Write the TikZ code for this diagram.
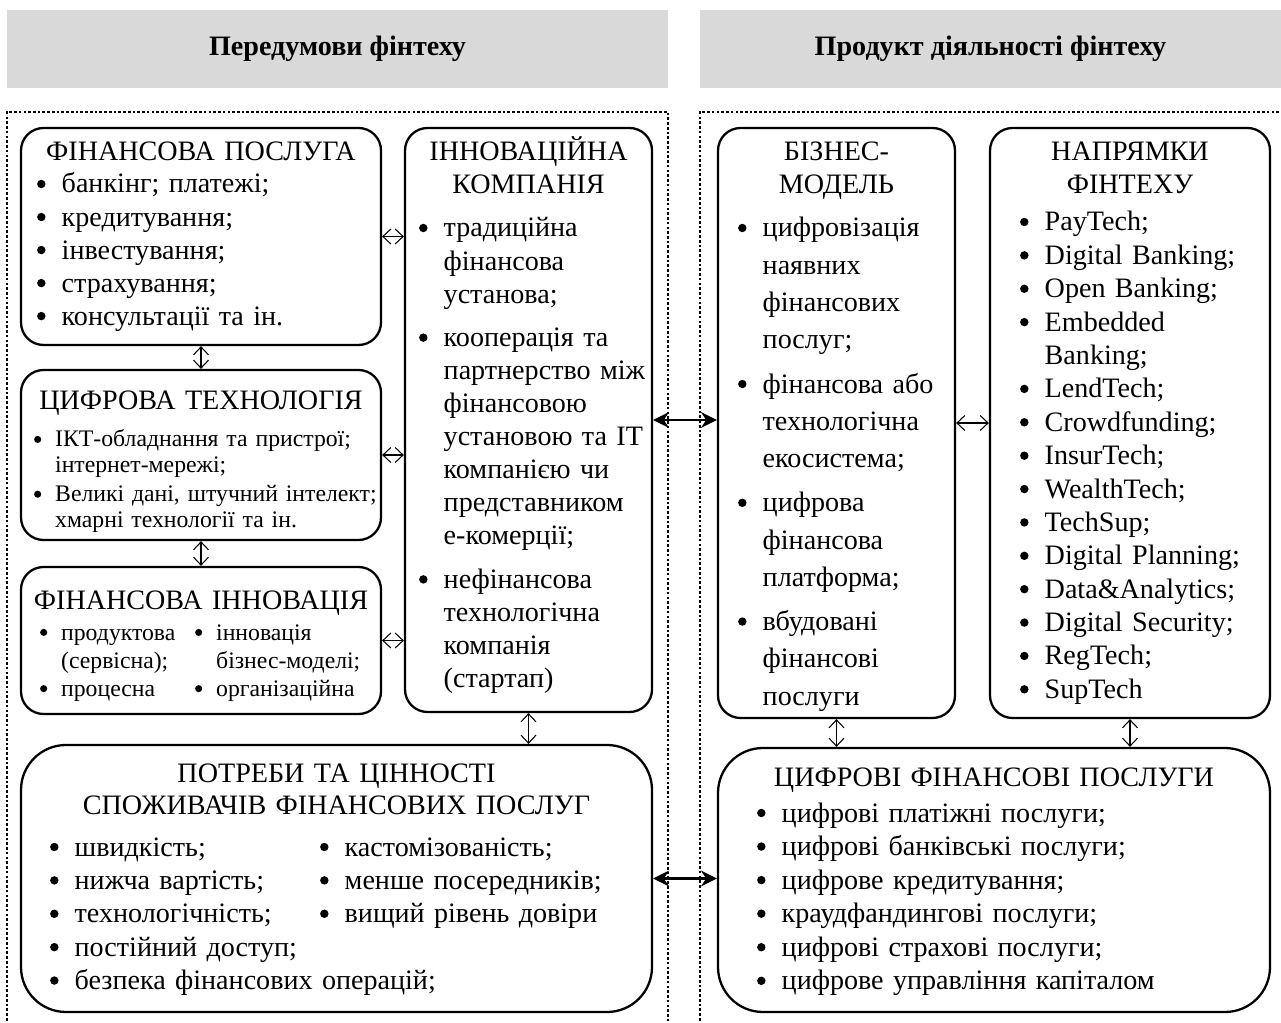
\documentclass[tikz,border=0pt]{standalone}
\usepackage{fontspec}
\setmainfont{Liberation Serif}
\usetikzlibrary{arrows.meta,positioning,fit}

% пункт списку з висячим відступом
\newcommand{\pnkt}[1][15pt]{\hangindent=#1\hangafter=1\makebox[#1][l]{\hspace{1pt}\tikz[baseline=-0.32em]\fill (0,0) circle (0.15em);}\ignorespaces}

\begin{document}
\begin{tikzpicture}[x=0.02cm, y=-0.02cm,
  font=\fontsize{16pt}{18.8pt}\selectfont,
  kop/.style={fill=black!15, inner sep=0pt},
  kopT/.style={font=\fontsize{16pt}{18.8pt}\selectfont\bfseries},
  ramka/.style={line width=0.8pt, dash pattern=on 1.5pt off 1.2pt},
  blok/.style={draw, line width=1.3pt, rounded corners=0.45cm, inner sep=0pt},
  blokV/.style={blok, rounded corners=0.9cm},
  nazva/.style={anchor=base, inner sep=0pt, align=center, font=\fontsize{16pt}{18.3pt}\selectfont},
  spys/.style={anchor=base west, inner sep=0pt, align=left},
  dribn/.style={font=\fontsize{13.5pt}{14.6pt}\selectfont},
  strl/.style={{Straight Barb[length=4.5pt,width=8.5pt]}-{Straight Barb[length=4.5pt,width=8.5pt]}, line width=0.6pt},
  strlG/.style={{Stealth[length=9pt,width=9pt]}-{Stealth[length=9pt,width=9pt]}, line width=1.3pt}]
\useasboundingbox (0,0) rectangle (1281,1023);

% заголовки
\node[kop, fit={(7,10) (668,88)}] (kopL) {};
\node[kop, fit={(700,10) (1281,88)}] (kopP) {};
\node[kopT] (kopLt) at (kopL.center) {Передумови фінтеху};
\node[kopT] (kopPt) at (kopP.center) {Продукт діяльності фінтеху};

% пунктирні рамки
\draw[ramka] (7,1030) |- (668,112) -- (668,1030);
\draw[ramka] (700,1030) |- (1284,112) -- (1284,1030);

% блоки
\node[blok, fit={(21,128) (381,345)}] (fp) {};
\node[blok, fit={(21,370) (381,540)}] (ct) {};
\node[blok, fit={(21,567) (381,714)}] (fi) {};
\node[blok, fit={(405,128) (652,712)}] (ic) {};
\node[blokV, fit={(21,745) (652,1012)}] (pc) {};
\node[blok, fit={(718,128) (955,718)}] (bm) {};
\node[blok, fit={(990,128) (1270,718)}] (nf) {};
\node[blokV, fit={(718,748) (1270,1012)}] (cf) {};

% фінансова послуга
\node[nazva, text width=7cm] (fpT) at (fp.north |- 0,161) {ФІНАНСОВА ПОСЛУГА};
\node[spys, text width=6.7cm] (fpL) at (35,193) {\pnkt банкінг; платежі;\par\pnkt кредитування;\par\pnkt інвестування;\par\pnkt страхування;\par\pnkt консультації та ін.\par};

% цифрова технологія
\node[nazva, text width=7cm] (ctT) at (ct.north |- 0,410) {ЦИФРОВА ТЕХНОЛОГІЯ};
\node[spys, dribn, text width=6.9cm] (ctL) at (32,447) {\setlength{\parskip}{2pt}\pnkt[13pt] ІКТ-обладнання та пристрої;\newline інтернет-мережі;\par\pnkt[13pt] Великі дані, штучний інтелект;\newline хмарні технології та ін.\par};

% фінансова інновація
\node[nazva, text width=7cm] (fiT) at (fi.north |- 0,609) {ФІНАНСОВА ІННОВАЦІЯ};
\node[spys, font=\fontsize{13.5pt}{16pt}\selectfont, text width=3cm] (fiL) at (38,640) {\pnkt[13pt] продуктова\newline (сервісна);\par\pnkt[13pt] процесна\par};
\node[spys, font=\fontsize{13.5pt}{16pt}\selectfont, text width=3.6cm] (fiR) at (193,640) {\pnkt[13pt] інновація\newline бізнес-моделі;\par\pnkt[13pt] організаційна\par};

% інноваційна компанія
\node[nazva, text width=4.8cm] (icT) at (ic.north |- 0,161) {ІННОВАЦІЙНА\\КОМПАНІЯ};
\node[spys, text width=4.8cm] (icL) at (417,237) {\setlength{\parskip}{6pt}\pnkt традиційна\newline фінансова\newline установа;\par\pnkt кооперація та\newline партнерство між\newline фінансовою\newline установою та IT\newline компанією чи\newline представником\newline е-комерції;\par\pnkt нефінансова\newline технологічна\newline компанія\newline (стартап)\par};

% потреби та цінності
\node[nazva, text width=12cm] (pcT) at (pc.north |- 0,782) {ПОТРЕБИ ТА ЦІННОСТІ\\СПОЖИВАЧІВ ФІНАНСОВИХ ПОСЛУГ};
\node[spys, font=\fontsize{16pt}{19pt}\selectfont, text width=8cm] (pcL) at (48,856) {\pnkt швидкість;\par\pnkt нижча вартість;\par\pnkt технологічність;\par\pnkt постійний доступ;\par\pnkt безпека фінансових операцій;\par};
\node[spys, font=\fontsize{16pt}{19pt}\selectfont, text width=6cm] (pcR) at (318,856) {\pnkt кастомізованість;\par\pnkt менше посередників;\par\pnkt вищий рівень довіри\par};

% бізнес-модель
\node[nazva, text width=4.6cm] (bmT) at (bm.north |- 0,161) {БІЗНЕС-\\МОДЕЛЬ};
\node[spys, font=\fontsize{16pt}{21.2pt}\selectfont, text width=4.4cm] (bmL) at (736,237) {\setlength{\parskip}{4pt}\pnkt цифровізація\newline наявних\newline фінансових\newline послуг;\par\pnkt фінансова або\newline технологічна\newline екосистема;\par\pnkt цифрова\newline фінансова\newline платформа;\par\pnkt вбудовані\newline фінансові\newline послуги\par};

% напрямки фінтеху
\node[nazva, text width=5.4cm] (nfT) at (nf.north |- 0,161) {НАПРЯМКИ\\ФІНТЕХУ};
\node[spys, font=\fontsize{16pt}{19pt}\selectfont, text width=5cm] (nfL) at (1018,231) {\pnkt PayTech;\par\pnkt Digital Banking;\par\pnkt Open Banking;\par\pnkt Embedded\newline Banking;\par\pnkt LendTech;\par\pnkt Crowdfunding;\par\pnkt InsurTech;\par\pnkt WealthTech;\par\pnkt TechSup;\par\pnkt Digital Planning;\par\pnkt Data\&Analytics;\par\pnkt Digital Security;\par\pnkt RegTech;\par\pnkt SupTech\par};

% цифрові фінансові послуги
\node[nazva, text width=10cm] (cfT) at (cf.north |- 0,786) {ЦИФРОВІ ФІНАНСОВІ ПОСЛУГИ};
\node[spys, font=\fontsize{16pt}{19.1pt}\selectfont, text width=9cm] (cfL) at (755,822) {\pnkt цифрові платіжні послуги;\par\pnkt цифрові банківські послуги;\par\pnkt цифрове кредитування;\par\pnkt краудфандингові послуги;\par\pnkt цифрові страхові послуги;\par\pnkt цифрове управління капіталом\par};

% зв'язки
\draw[strl] (fp.east) -- (fp.east -| ic.west);
\draw[strl] (ct.east) -- (ct.east -| ic.west);
\draw[strl] (fi.east) -- (fi.east -| ic.west);
\draw[strl] (fp.south) -- (ct.north);
\draw[strl] (ct.south) -- (fi.north);
\draw[strl] (ic.south) -- (ic.south |- pc.north);
\draw[strlG] (ic.east) -- (ic.east -| bm.west);
\draw[strl] (bm.east) -- (bm.east -| nf.west);
\draw[strl] (bm.south) -- (bm.south |- cf.north);
\draw[strl] (nf.south) -- (nf.south |- cf.north);
\draw[strlG] (pc.east) -- (pc.east -| cf.west);
\end{tikzpicture}
\end{document}
